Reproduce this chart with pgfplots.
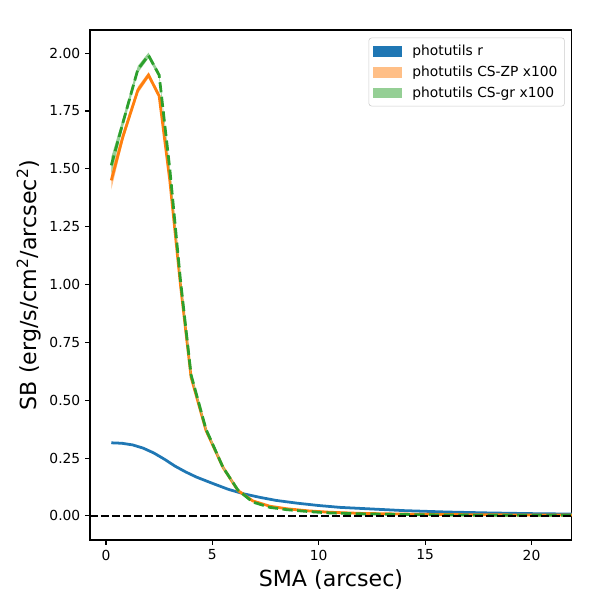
\documentclass[border=0pt]{standalone}
\usepackage{pgfplots}
\pgfplotsset{compat=1.18}
\usepackage{fontspec}
\setmainfont{DejaVu Sans}
\definecolor{cblue}{HTML}{1F77B4}
\definecolor{corange}{HTML}{FF7F0E}
\definecolor{cgreen}{HTML}{2CA02C}
\definecolor{corangeL}{HTML}{FFBF87}
\definecolor{cgreenL}{HTML}{95CF95}
\begin{document}
\begin{tikzpicture}
\useasboundingbox (0,0) rectangle (433.62pt,433.62pt);
\begin{axis}[
  at={(65.04pt,43.36pt)}, anchor=south west,
  scale only axis, width=348.3pt, height=368.6pt,
  xmin=-0.75, xmax=21.9, ymin=-0.104, ymax=2.10,
  xtick={0,5,10,15,20},
  ytick={0,0.25,0.5,0.75,1.0,1.25,1.5,1.75,2.0},
  yticklabel style={/pgf/number format/fixed,/pgf/number format/fixed zerofill,/pgf/number format/precision=2},
  /pgf/number format/assume math mode=true,
  tick align=outside, tick pos=left,
  major tick length=3.5pt,
  every tick/.style={black, line width=0.8pt},
  axis line style={line width=0.8pt},
  tick label style={font=\fontsize{10}{12}\selectfont},
  xlabel={SMA (arcsec)},
  ylabel={SB (erg/s/cm\textsuperscript{2}/arcsec\textsuperscript{2})},
  label style={font=\fontsize{16}{19}\selectfont},
  xlabel style={yshift=0pt},
  ylabel style={yshift=-1pt},
  legend cell align=left,
  legend style={font=\fontsize{10}{12}\selectfont, draw=black!20, rounded corners=2pt, fill=white, fill opacity=0.8, text opacity=1, at={(0.985,0.985)}, anchor=north east, inner xsep=3pt, inner ysep=3pt, row sep=2pt},
]
% blue line
\addplot[cblue, line width=2pt, forget plot] coordinates {
(0.25,0.316)(0.75,0.314)(1.25,0.307)(1.75,0.293)(2.25,0.272)(2.75,0.245)(3.25,0.215)(3.75,0.19)(4.25,0.168)(5.0,0.141)(5.75,0.115)(6.5,0.095)(7.25,0.08)(8.0,0.067)(9.0,0.055)(10.0,0.045)(11.0,0.037)(12.5,0.03)(14,0.023)(16,0.017)(18,0.013)(20,0.010)(22,0.008)};
% orange band
\addplot[fill=corangeL, draw=none, forget plot] coordinates {
(0.25,1.49)(0.8,1.66)(1.5,1.855)(2.0,1.917)(2.5,1.827)(3.0,1.46)(3.5,1.008)(4.0,0.606)(4.7,0.375)(5.5,0.214)(6.2,0.113)
(6.2,0.107)(5.5,0.206)(4.7,0.365)(4.0,0.594)(3.5,0.992)(3.0,1.44)(2.5,1.803)(2.0,1.893)(1.5,1.825)(0.8,1.62)(0.25,1.41)} -- cycle;
% orange line
\addplot[corange, line width=2pt, forget plot] coordinates {
(0.25,1.45)(0.8,1.64)(1.5,1.84)(2.0,1.905)(2.5,1.815)(3.0,1.45)(3.5,1.00)(4.0,0.60)(4.7,0.37)(5.5,0.21)(6.2,0.11)(6.9,0.065)(7.7,0.042)(8.5,0.031)(9.5,0.022)(10.5,0.016)(12,0.011)(14,0.008)(16,0.006)(18,0.005)(20,0.004)(22,0.004)};
% green band
\addplot[fill=cgreenL, draw=none, forget plot] coordinates {
(0.25,1.55)(0.8,1.72)(1.5,1.945)(2.0,2.002)(2.5,1.917)(3.0,1.51)(3.5,1.028)(4.0,0.616)(4.7,0.38)(5.5,0.214)(6.2,0.115)
(6.2,0.109)(5.5,0.206)(4.7,0.37)(4.0,0.604)(3.5,1.012)(3.0,1.49)(2.5,1.893)(2.0,1.978)(1.5,1.915)(0.8,1.68)(0.25,1.48)} -- cycle;
% green dashed line
\addplot[cgreen, line width=2pt, dash pattern=on 7.4pt off 3.2pt, forget plot] coordinates {
(0.25,1.515)(0.8,1.70)(1.5,1.93)(2.0,1.99)(2.5,1.905)(3.0,1.50)(3.5,1.02)(4.0,0.61)(4.7,0.375)(5.5,0.21)(6.2,0.112)(6.9,0.06)(7.7,0.037)(8.5,0.027)(9.5,0.019)(10.5,0.013)(12,0.009)(14,0.006)(16,0.004)(18,0.003)(20,0.003)(22,0.003)};
% zero line
\addplot[black, line width=1.5pt, dash pattern=on 5.55pt off 2.4pt, forget plot] coordinates {(-0.75,0)(21.9,0)};
\addlegendimage{legend image code/.code={\fill[cblue, fill opacity=1, sharp corners] (0pt,-3.5pt) rectangle (20pt,3.5pt); \path (26pt,0pt);}}
\addlegendentry{photutils r}
\addlegendimage{legend image code/.code={\fill[corangeL, fill opacity=1, sharp corners] (0pt,-3.5pt) rectangle (20pt,3.5pt); \path (26pt,0pt);}}
\addlegendentry{photutils CS-ZP x100}
\addlegendimage{legend image code/.code={\fill[cgreenL, fill opacity=1, sharp corners] (0pt,-3.5pt) rectangle (20pt,3.5pt); \path (26pt,0pt);}}
\addlegendentry{photutils CS-gr x100}
\node[anchor=south west, inner sep=0pt, font=\fontsize{10}{12}\selectfont] at (rel axis cs:0,1) [yshift=3pt] {1e\char"2212 13};
\end{axis}
\end{tikzpicture}
\end{document}
